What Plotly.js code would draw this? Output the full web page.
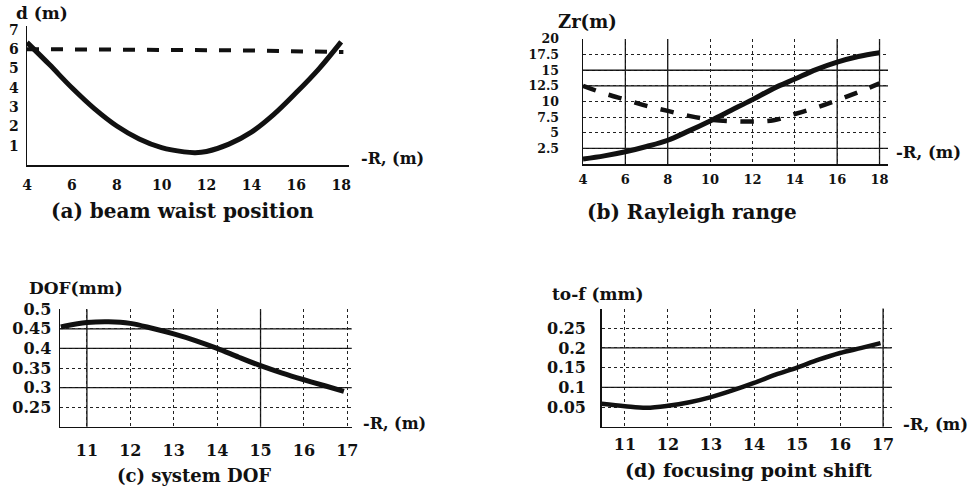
<!DOCTYPE html>
<html>
<head>
<meta charset="utf-8">
<script src="https://cdn.plot.ly/plotly-3.0.1.min.js"></script>
<style>html,body{margin:0;padding:0;background:#fff}#chart{width:975px;height:487px}</style>
</head>
<body>
<div id="chart"></div>
<script>
// ---------- data ----------
// (a) beam waist position d (m) vs -R (m)
const aX = [4, 5, 6, 7, 8, 9, 10, 11, 11.5, 12, 13, 14, 15, 16, 17, 18];
const aSolid = [6.35, 5.2, 4.0, 2.92, 2.02, 1.35, 0.9, 0.68, 0.64, 0.7, 1.08, 1.7, 2.62, 3.75, 4.97, 6.38];
const aDashX = [4, 6, 8, 10, 12, 14, 16, 18.1];
const aDash = [6.0, 6.0, 5.98, 5.97, 5.95, 5.93, 5.9, 5.85];
const aXTicks = [4, 6, 8, 10, 12, 14, 16, 18];
const aYTicks = [1, 2, 3, 4, 5, 6, 7];

// (b) Rayleigh range Zr (m) vs -R (m)
const bX = [4, 5, 6, 7, 8, 9, 10, 11, 12, 13, 14, 15, 16, 17, 18];
const bSolid = [0.8, 1.3, 1.95, 2.8, 3.8, 5.3, 6.9, 8.6, 10.3, 12.1, 13.6, 15.1, 16.3, 17.2, 17.8];
const bDash = [12.5, 11.3, 10.3, 9.3, 8.5, 7.7, 7.1, 6.85, 6.8, 7.0, 8.0, 9.0, 10.2, 11.5, 12.9];
const bXTicks = [4, 6, 8, 10, 12, 14, 16, 18];
const bYTicks = [2.5, 5, 7.5, 10, 12.5, 15, 17.5, 20];
const bYLabels = ["2.5", "5", "7.5", "10", "12.5", "15", "17.5", "20"];
const bSolidGridX = [6, 8, 16, 18];
const bSolidGridY = [2.5, 12.5, 15];

// (c) system DOF (mm) vs -R (m)
const cX = [10.4, 10.5, 11, 11.5, 12, 12.5, 13, 13.5, 14, 14.5, 15, 15.5, 16, 16.5, 16.92];
const cY = [0.455, 0.4575, 0.466, 0.468, 0.464, 0.4515, 0.437, 0.42, 0.40, 0.3775, 0.356, 0.337, 0.32, 0.304, 0.29];
const cXTicks = [11, 12, 13, 14, 15, 16, 17];
const cYTicks = [0.25, 0.3, 0.35, 0.4, 0.45, 0.5];
const cYLabels = ["0.25", "0.3", "0.35", "0.4", "0.45", "0.5"];
const cSolidGridX = [11, 15];
const cSolidGridY = [0.3, 0.4, 0.45];

// (d) focusing point shift to-f (mm) vs -R (m)
const dX = [10.46, 11, 11.5, 12, 12.5, 13, 13.5, 14, 14.5, 15, 15.5, 16, 16.5, 16.94];
const dY = [0.058, 0.052, 0.048, 0.053, 0.062, 0.075, 0.092, 0.111, 0.132, 0.15, 0.17, 0.187, 0.2, 0.212];
const dXTicks = [11, 12, 13, 14, 15, 16, 17];
const dYTicks = [0.05, 0.1, 0.15, 0.2, 0.25];
const dYLabels = ["0.05", "0.1", "0.15", "0.2", "0.25"];
const dSolidGridX = [17];
const dSolidGridY = [0.1, 0.2];

const captions = ["(a) beam waist position", "(b) Rayleigh range", "(c) system DOF", "(d) focusing point shift"];
const yTitles = ["d (m)", "Zr(m)", "DOF(mm)", "to-f (mm)"];
const xTitle = "-R, (m)";

// ---------- layout helpers ----------
const W = 975, H = 487;
const px = v => v / W;
const py = v => 1 - v / H;
const FONT = "DejaVu Serif";
const INK = "#111";

function axis(domain, range, tickvals, ticktext, fs, tlen, grid) {
  const o = {
    domain: domain, range: range, tickmode: "array", tickvals: tickvals,
    ticks: "outside", ticklen: tlen, tickcolor: "rgba(0,0,0,0)",
    showline: true, linecolor: INK, linewidth: 1.5, zeroline: false,
    showgrid: grid, gridcolor: "#222", gridwidth: 1, griddash: "dot",
    tickfont: {family: FONT, size: fs, color: INK, weight: "bold"},
    fixedrange: true
  };
  if (ticktext) o.ticktext = ticktext;
  return o;
}

const traces = [
  {x: aX, y: aSolid, xaxis: "x", yaxis: "y", mode: "lines", line: {color: INK, width: 5, shape: "spline"}},
  {x: aDashX, y: aDash, xaxis: "x", yaxis: "y", mode: "lines", line: {color: INK, width: 4, dash: "dash"}},
  {x: bX, y: bSolid, xaxis: "x2", yaxis: "y2", mode: "lines", line: {color: INK, width: 5, shape: "spline"}},
  {x: bX, y: bDash, xaxis: "x2", yaxis: "y2", mode: "lines", line: {color: INK, width: 4.5, dash: "dash", shape: "spline"}},
  {x: cX, y: cY, xaxis: "x3", yaxis: "y3", mode: "lines", line: {color: INK, width: 5, shape: "spline"}},
  {x: dX, y: dY, xaxis: "x4", yaxis: "y4", mode: "lines", line: {color: INK, width: 4.5, shape: "spline"}}
];

const shapes = [];
function solidGrid(xs, ys, xr, yr) {
  xs.forEach(v => shapes.push({type: "line", layer: "below", xref: xr, yref: yr + " domain", x0: v, x1: v, y0: 0, y1: 1, line: {color: INK, width: 1.3}}));
  ys.forEach(v => shapes.push({type: "line", layer: "below", xref: xr + " domain", yref: yr, x0: 0, x1: 1, y0: v, y1: v, line: {color: INK, width: 1.3}}));
}
solidGrid(bSolidGridX, bSolidGridY, "x2", "y2");
solidGrid(cSolidGridX, cSolidGridY, "x3", "y3");
solidGrid(dSolidGridX, dSolidGridY, "x4", "y4");

function ann(text, x, y, fs, xanchor) {
  return {text: text, xref: "paper", yref: "paper", x: px(x), y: py(y), xanchor: xanchor || "center", yanchor: "middle",
    showarrow: false, font: {family: FONT, size: fs, color: INK, weight: "bold"}};
}

const annotations = [
  ann(captions[0], 182, 211, 20),
  ann(captions[1], 692, 212, 20),
  ann(captions[2], 194, 475, 18),
  ann(captions[3], 748, 470, 19),
  ann(yTitles[0], 14, 13, 17, "left"),
  ann(yTitles[1], 556, 21, 18, "left"),
  ann(yTitles[2], 27, 288, 17, "left"),
  ann(yTitles[3], 550, 294, 17, "left"),
  ann(xTitle, 359, 158, 16, "left"),
  ann(xTitle, 894, 153, 16.5, "left"),
  ann(xTitle, 361, 423, 16, "left"),
  ann(xTitle, 901, 424, 16.5, "left")
];

const layout = {
  width: W, height: H, margin: {l: 0, r: 0, t: 0, b: 0},
  paper_bgcolor: "#fff", plot_bgcolor: "#fff", showlegend: false,
  xaxis:  axis([px(27), px(349)], [4, 18.35], aXTicks, null, 14, 7, false),
  yaxis:  axis([py(165), py(26)], [0, 7.2], aYTicks, null, 14, 4, false),
  xaxis2: axis([px(583), px(888)], [4, 18.4], bXTicks, null, 13, 3, true),
  yaxis2: axis([py(164), py(39)], [0, 20], bYTicks, bYLabels, 12.5, 20, true),
  xaxis3: axis([px(60), px(351.7)], [10.38, 17.1], cXTicks, null, 16, 9, true),
  yaxis3: axis([py(426.7), py(309.3)], [0.2, 0.5], cYTicks, cYLabels, 16, 4, true),
  xaxis4: axis([px(601.7), px(891.7)], [10.46, 17.2], dXTicks, null, 16, 3, true),
  yaxis4: axis([py(426.7), py(308.5)], [0, 0.3], dYTicks, dYLabels, 16, 11, true),
  shapes: shapes,
  annotations: annotations
};
layout.yaxis.anchor = "x"; layout.xaxis.anchor = "y";
layout.yaxis2.anchor = "x2"; layout.xaxis2.anchor = "y2";
layout.yaxis3.anchor = "x3"; layout.xaxis3.anchor = "y3";
layout.yaxis4.anchor = "x4"; layout.xaxis4.anchor = "y4";

Plotly.newPlot("chart", traces, layout, {staticPlot: true, displayModeBar: false});
</script>
</body>
</html>
